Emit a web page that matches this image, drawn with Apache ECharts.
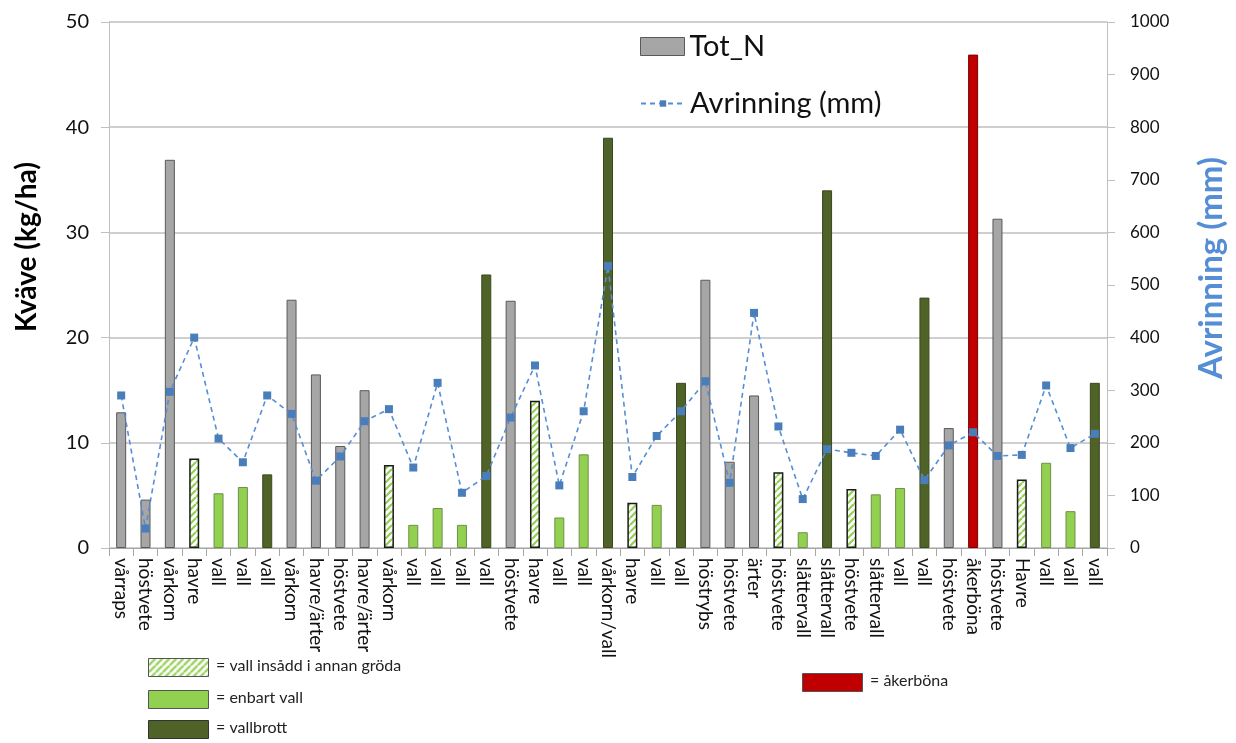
<!DOCTYPE html>
<html><head><meta charset="utf-8">
<script src="https://cdn.jsdelivr.net/npm/echarts@6/dist/echarts.min.js"></script>
<style>html,body{margin:0;padding:0;background:#fff}#c{width:1236px;height:743px}</style>
</head><body><div id="c"></div>
<script>
const categories = ['vårraps','höstvete','vårkorn','havre','vall','vall','vall','vårkorn','havre/ärter','höstvete','havre/ärter','vårkorn','vall','vall','vall','vall','höstvete','havre','vall','vall','vårkorn/vall','havre','vall','vall','höstrybs','höstvete','ärter','höstvete','slåttervall','slåttervall','höstvete','slåttervall','vall','vall','höstvete','åkerböna','höstvete','Havre','vall','vall','vall'];
const totN = [12.9,4.6,36.9,8.5,5.2,5.8,7.0,23.6,16.5,9.7,15.0,7.9,2.2,3.8,2.2,26.0,23.5,14.0,2.9,8.9,39.0,4.3,4.1,15.7,25.5,8.2,14.5,7.2,1.5,34.0,5.6,5.1,5.7,23.8,11.4,46.9,31.3,6.5,8.1,3.5,15.7];
const avrinning = [290,37,297,400,208,163,290,255,128,174,241,264,153,314,105,137,248,347,119,260,536,135,213,260,317,124,447,231,93,188,181,175,225,129,195,220,175,177,309,190,217];
// g = gray, h = hatched (vall insådd), l = enbart vall, d = vallbrott, r = åkerböna
const barType = ['g','g','g','h','l','l','d','g','g','g','g','h','l','l','l','d','g','h','l','l','d','h','l','d','g','g','g','h','l','d','h','l','l','d','g','r','g','h','l','l','d'];
const leftTicks = [0,10,20,30,40,50];
const rightTicks = [0,100,200,300,400,500,600,700,800,900,1000];

function hatch(){
  const s = 7, cv = document.createElement('canvas');
  cv.width = s; cv.height = s;
  const g = cv.getContext('2d');
  g.fillStyle = '#ffffff'; g.fillRect(0,0,s,s);
  g.strokeStyle = '#92d050'; g.lineWidth = 2.2;
  g.beginPath();
  for (let k=-1;k<=1;k++){ g.moveTo(k*s, s); g.lineTo(k*s+s, 0); }
  g.stroke();
  return cv;
}
const hatchImg = hatch();
const styles = {
  g:{color:'#a6a6a6', borderColor:'#595959', borderWidth:1},
  h:{color:{image:hatchImg, repeat:'repeat'}, borderColor:'#1a1a1a', borderWidth:1.5},
  l:{color:'#92d050', borderColor:'#6f8f4a', borderWidth:1},
  d:{color:'#4f6228', borderColor:'#3b4a1d', borderWidth:1},
  r:{color:'#c00000', borderColor:'#7a0000', borderWidth:1}
};
const barData = totN.map((v,i)=>({value:v, itemStyle:styles[barType[i]]}));

const FONT = 'Lato, "Open Sans", sans-serif';
const chart = echarts.init(document.getElementById('c'));
const lg = [
  {y:658, txt:'= vall insådd i annan gröda', fill:{image:hatchImg, repeat:'repeat'}, stroke:'#555', x:148},
  {y:690, txt:'= enbart vall', fill:'#92d050', stroke:'#555', x:148},
  {y:720, txt:'= vallbrott', fill:'#4f6228', stroke:'#333', x:148},
  {y:673, txt:'= åkerböna', fill:'#c00000', stroke:'#555', x:802}
];
const graphic = [];
lg.forEach(o=>{
  graphic.push({type:'rect', left:o.x, top:o.y, shape:{width:60,height:18}, style:{fill:o.fill, stroke:o.stroke, lineWidth:1}});
  graphic.push({type:'text', left:o.x+68, top:o.y, style:{text:o.txt, fontSize:16, fontFamily:FONT, fill:'#222'}});
});

const legendText = {fontSize:29, color:'#111', fontFamily:FONT};
chart.setOption({
  animation:false,
  textStyle:{fontFamily:FONT},
  grid:{left:109, right:129, top:22, bottom:195, outerBoundsMode:'none', containLabel:false},
  legend:[
    {left:640, top:32, padding:0, itemWidth:44, itemHeight:18, itemGap:4,
     textStyle:legendText,
     data:[{name:'Tot_N', icon:'rect', itemStyle:{color:'#a6a6a6', borderColor:'#595959', borderWidth:1}}]},
    {left:640, top:89, padding:0, itemWidth:44, itemHeight:8,
     textStyle:legendText,
     data:[{name:'Avrinning (mm)'}]}
  ],
  xAxis:{
    type:'category', data:categories, boundaryGap:true,
    axisLine:{lineStyle:{color:'#a6a6a6', width:1}},
    axisTick:{show:true, alignWithLabel:false, length:8, lineStyle:{color:'#a6a6a6'}},
    axisLabel:{rotate:-90, interval:0, fontSize:19, color:'#111', margin:10, fontFamily:FONT}
  },
  yAxis:[
    {type:'value', min:0, max:50, interval:10, name:'Kväve (kg/ha)', nameLocation:'middle', nameGap:68,
     nameTextStyle:{fontSize:28, fontWeight:'bold', color:'#000', fontFamily:FONT, padding:[0,0,0,76]},
     axisLine:{show:true, lineStyle:{color:'#bfbfbf'}},
     axisTick:{show:true, length:8, lineStyle:{color:'#bfbfbf'}},
     axisLabel:{fontSize:20, color:'#111', margin:20, fontFamily:FONT},
     splitLine:{show:true, lineStyle:{color:'#bfbfbf', width:1.5}}},
    {type:'value', min:0, max:1000, interval:100, name:'Avrinning (mm)', nameLocation:'middle', nameGap:88,
     nameRotate:90,
     nameTextStyle:{fontSize:33, fontWeight:'bold', color:'#558ed5', fontFamily:FONT, padding:[0,0,0,34]},
     axisLine:{show:true, lineStyle:{color:'#bfbfbf'}},
     axisTick:{show:true, length:8, lineStyle:{color:'#bfbfbf'}},
     axisLabel:{fontSize:17, color:'#111', margin:23, fontFamily:FONT, formatter:v=>String(v)},
     splitLine:{show:false}}
  ],
  series:[
    {name:'Tot_N', type:'bar', barWidth:10, data:barData, yAxisIndex:0,
     itemStyle:{color:'#a6a6a6', borderColor:'#595959', borderWidth:1}},
    {name:'Avrinning (mm)', type:'line', yAxisIndex:1, data:avrinning,
     symbol:'rect', symbolSize:8, z:5,
     lineStyle:{color:'#558ed5', width:1.6, type:[5,4]},
     itemStyle:{color:'#4a7ebb'}}
  ],
  graphic:graphic
});
</script></body></html>
